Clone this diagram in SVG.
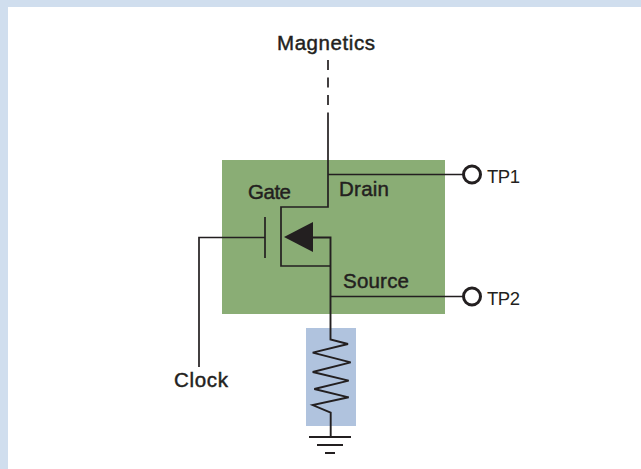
<svg xmlns="http://www.w3.org/2000/svg" width="641" height="469" viewBox="0 0 641 469">
<style>
text{font-family:"Liberation Sans",Arial,sans-serif;fill:#231f20}
.m{font-size:20.5px;stroke:#231f20;stroke-width:.45px}
.t{font-size:18.500px}
.w{fill:none;stroke:#231f20;stroke-width:1.7}
.tp{fill:#fff;stroke:#231f20;stroke-width:3}
</style>
<rect width="641" height="469" fill="#fff"/>
<path d="M0 0H641V7H8V469H0Z" fill="#d0deee"/>
<g id="transistor-block"><rect x="222" y="160" width="223" height="154" fill="#8aad75"/></g>
<g id="resistor-block"><rect x="306" y="328" width="50" height="98" fill="#b0c3de"/></g>
<g id="connectors">
<path class="w" d="M328 60V113" stroke-dasharray="10 7.500"/>
<path class="w" d="M328 113V207H281V266H330.500"/>
<path class="w" d="M328 174.500H463"/>
<path class="w" d="M330.500 296.500H463"/>
<path class="w" d="M199 367V237.500H265"/>
<path class="w" d="M265 217V258" stroke-width="2"/>
<path class="w" d="M313 237.500H330.500V339.500L348 344L312.700 352.700L350.700 362.300L312.700 372L348.700 380.700L314.300 389L348.700 397.300L312.700 405L330.700 412.700V437" style="stroke-width:1.9"/>
<path d="M309 437H351M317 445H343M325 453H335" fill="none" stroke="#231f20" stroke-width="2.200"/>
</g>
<g id="diode"><path d="M284 237L313 222V252Z" fill="#231f20"/></g>
<g id="tp1"><circle class="tp" cx="472" cy="174.500" r="8.500"/><text class="t" x="487" y="182.500" textLength="33">TP1</text></g>
<g id="tp2"><circle class="tp" cx="472" cy="296.500" r="8.500"/><text class="t" x="487" y="305" textLength="33">TP2</text></g>
<g id="labels">
<text class="m" x="277" y="49.500" textLength="98" lengthAdjust="spacing">Magnetics</text>
<text class="m" x="248" y="199" textLength="43">Gate</text>
<text class="m" x="339" y="196" textLength="50">Drain</text>
<text class="m" x="343" y="288" textLength="66">Source</text>
<text class="m" x="174" y="386.500" textLength="54">Clock</text>
</g>
</svg>
